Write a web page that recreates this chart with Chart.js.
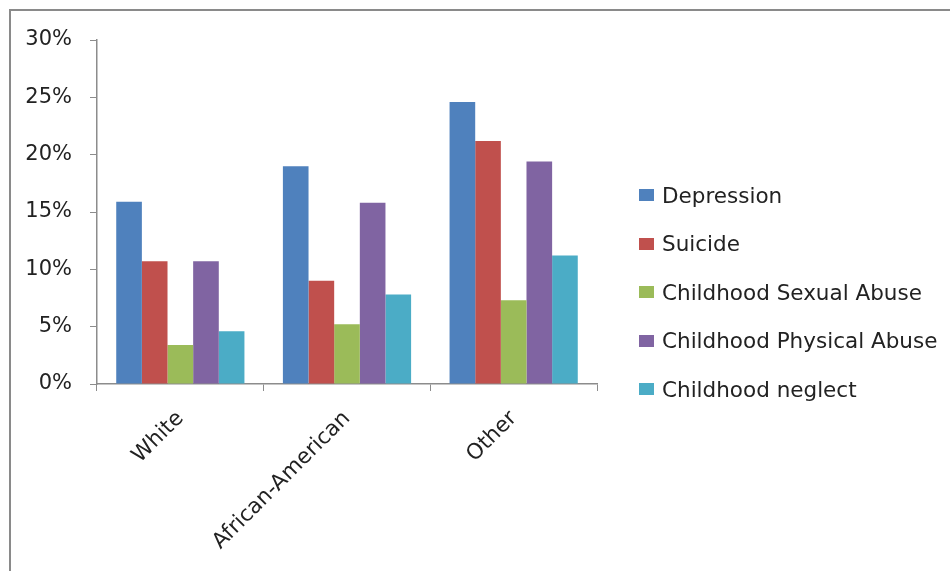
<!DOCTYPE html>
<html>
<head>
<meta charset="utf-8">
<script src="https://cdn.jsdelivr.net/npm/chart.js@4"></script>
<style>
  html, body { margin: 0; padding: 0; background: #fff; }
  #wrap { position: relative; width: 950px; height: 571px; overflow: hidden; }
  #frame { position: absolute; left: 9px; top: 9px; width: 960px; height: 600px;
           border-top: 2px solid #8a8a8a; border-left: 2px solid #8a8a8a; box-sizing: border-box; }
  canvas { position: absolute; left: 0; top: 0; }
  #legend { position: absolute; left: 639px; top: 171px; font-family: "DejaVu Sans", sans-serif;
            font-size: 21.5px; color: #222; }
  #legend .row { height: 48.5px; display: flex; align-items: center; white-space: nowrap; }
  #legend .sw { width: 15px; height: 12px; margin-right: 8px; flex: none; }
</style>
</head>
<body>
<div id="wrap">
  <div id="frame"></div>
  <canvas id="c" width="950" height="571"></canvas>
  <div id="legend"></div>
</div>
<script>
// Groups along the horizontal axis
const groups = ["White", "African-American", "Other"];

// Prevalence per group, in percent
const depression     = [15.9, 19.0, 24.6];
const suicide        = [10.7, 9.0, 21.2];
const sexualAbuse    = [3.4, 5.2, 7.3];
const physicalAbuse  = [10.7, 15.8, 19.4];
const neglect        = [4.6, 7.8, 11.2];

const seriesNames = ["Depression", "Suicide", "Childhood Sexual Abuse", "Childhood Physical Abuse", "Childhood neglect"];
const seriesColors = ["#4F81BD", "#C0504D", "#9BBB59", "#8064A2", "#4BACC6"];
const seriesValues = [depression, suicide, sexualAbuse, physicalAbuse, neglect];

// Value axis ticks
const yMin = 0, yMax = 30, yStep = 5;

const FONT = "'DejaVu Sans', sans-serif";
const AXIS_GREY = "#8c8c8c";

const datasets = seriesNames.map((name, i) => ({
  label: name,
  data: seriesValues[i],
  backgroundColor: seriesColors[i],
  borderWidth: 0,
  categoryPercentage: 5 / 6.5,
  barPercentage: 1.0
}));

new Chart(document.getElementById("c"), {
  type: "bar",
  data: { labels: groups, datasets },
  options: {
    responsive: false,
    animation: false,
    layout: { padding: { top: 40, right: 353, left: 0, bottom: 0 } },
    plugins: { legend: { display: false }, tooltip: { enabled: false } },
    scales: {
      x: {
        offset: true,
        grid: { display: true, drawOnChartArea: false, offset: true, tickLength: 7, color: AXIS_GREY },
        border: { display: true, color: AXIS_GREY, width: 1.5 },
        ticks: { minRotation: 45, maxRotation: 45, padding: 15, color: "#222", font: { family: FONT, size: 21.5 } },
        afterFit(scale) { scale.height = 571 - 384; }
      },
      y: {
        min: yMin, max: yMax,
        grid: { display: true, drawOnChartArea: false, tickLength: 7, color: AXIS_GREY },
        border: { display: true, color: AXIS_GREY, width: 1.5 },
        ticks: { stepSize: yStep, padding: 18, color: "#222", font: { family: FONT, size: 21 },
                 callback: v => v + "%" },
        afterFit(scale) { scale.width = 97; }
      }
    }
  }
});

// Legend built from the same series
const legend = document.getElementById("legend");
seriesNames.forEach((name, i) => {
  const row = document.createElement("div");
  row.className = "row";
  const sw = document.createElement("span");
  sw.className = "sw";
  sw.style.background = seriesColors[i];
  const tx = document.createElement("span");
  tx.textContent = name;
  row.appendChild(sw);
  row.appendChild(tx);
  legend.appendChild(row);
});
</script>
</body>
</html>
